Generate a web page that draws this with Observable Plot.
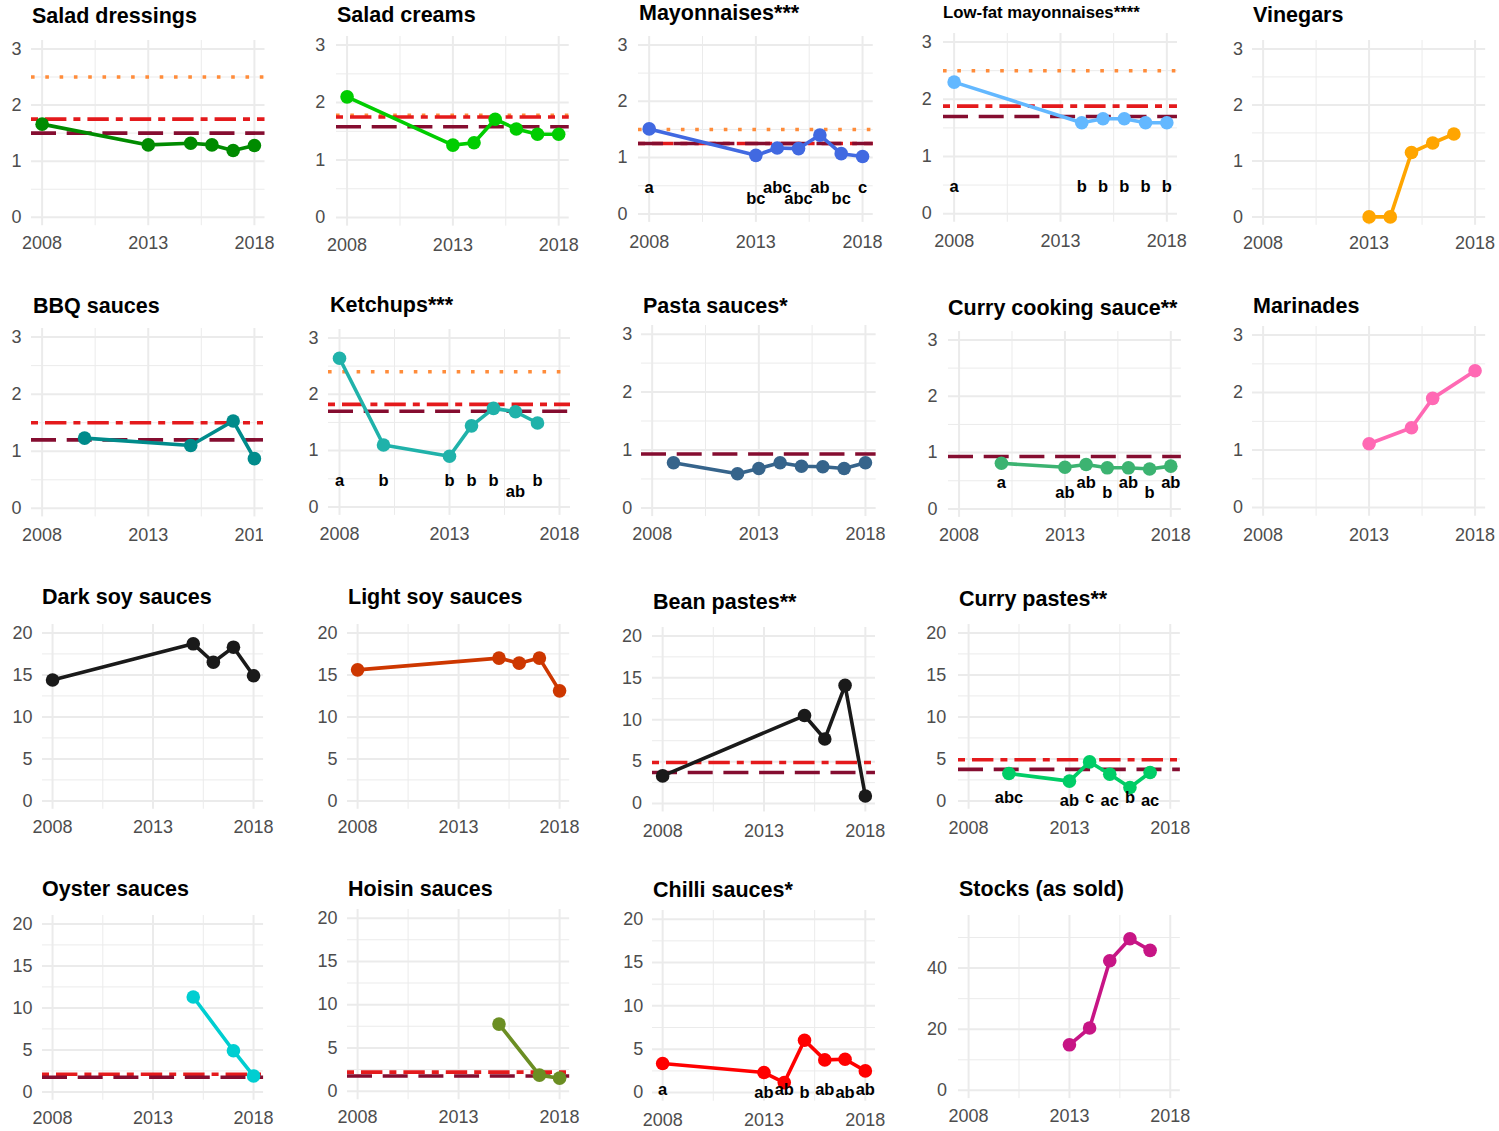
<!DOCTYPE html>
<html>
<head>
<meta charset="utf-8">
<script src="https://cdn.jsdelivr.net/npm/d3@7"></script>
<script src="https://cdn.jsdelivr.net/npm/@observablehq/plot@0.6"></script>
<style>
  html, body { margin: 0; padding: 0; background: #fff; }
  #root { position: relative; width: 1499px; height: 1131px; overflow: hidden; background: #fff;
          font-family: "Liberation Sans", Arial, Helvetica, sans-serif; }
  .pnl { position: absolute; }
  #titles { position: absolute; left: 0; top: 0; pointer-events: none; }
</style>
</head>
<body>
<div id="root"></div>
<script>
// ---------------- DATA ----------------
// refs arrays: [dotted target, dash-dot line, long-dashed line]
const sdYears = [2008, 2013, 2015, 2016, 2017, 2018];
const sdValues = [1.66, 1.29, 1.32, 1.29, 1.19, 1.28];
const sdRefs = [2.5, 1.75, 1.5];

const scYears = [2008, 2013, 2014, 2015, 2016, 2017, 2018];
const scValues = [2.10, 1.26, 1.30, 1.71, 1.54, 1.45, 1.45];
const scRefs = [1.78, 1.75, 1.58];

const myYears = [2008, 2013, 2014, 2015, 2016, 2017, 2018];
const myValues = [1.51, 1.04, 1.17, 1.16, 1.40, 1.07, 1.02];
const myRefs = [1.5, 1.25, 1.25];
const myLetters = ["a", "bc", "abc", "abc", "ab", "bc", "c"];
const myTiers = [0, 1, 0, 1, 0, 1, 0];

const lfYears = [2008, 2014, 2015, 2016, 2017, 2018];
const lfValues = [2.30, 1.59, 1.66, 1.66, 1.59, 1.59];
const lfRefs = [2.5, 1.88, 1.7];
const lfLetters = ["a", "b", "b", "b", "b", "b"];
const lfTiers = [0, 0, 0, 0, 0, 0];

const viYears = [2013, 2014, 2015, 2016, 2017];
const viValues = [0, 0, 1.15, 1.32, 1.48];
const viRefs = [null, null, null];

const bbYears = [2010, 2015, 2017, 2018];
const bbValues = [1.23, 1.10, 1.53, 0.87];
const bbRefs = [null, 1.5, 1.2];

const keYears = [2008, 2010, 2013, 2014, 2015, 2016, 2017];
const keValues = [2.64, 1.10, 0.90, 1.44, 1.75, 1.69, 1.49];
const keRefs = [2.4, 1.82, 1.7];
const keLetters = ["a", "b", "b", "b", "b", "ab", "b"];
const keTiers = [0, 0, 0, 0, 0, 1, 0];

const paYears = [2009, 2012, 2013, 2014, 2015, 2016, 2017, 2018];
const paValues = [0.78, 0.59, 0.68, 0.78, 0.72, 0.71, 0.68, 0.78];
const paRefs = [null, null, 0.93];

const ccYears = [2010, 2013, 2014, 2015, 2016, 2017, 2018];
const ccValues = [0.81, 0.74, 0.79, 0.73, 0.73, 0.71, 0.76];
const ccRefs = [null, null, 0.93];
const ccLetters = ["a", "ab", "ab", "b", "ab", "b", "ab"];
const ccTiers = [0, 1, 0, 1, 0, 1, 0];

const maYears = [2013, 2015, 2016, 2018];
const maValues = [1.11, 1.39, 1.90, 2.38];
const maRefs = [null, null, null];

const dsYears = [2008, 2015, 2016, 2017, 2018];
const dsValues = [14.4, 18.7, 16.5, 18.3, 14.9];
const dsRefs = [null, null, null];

const lsYears = [2008, 2015, 2016, 2017, 2018];
const lsValues = [15.6, 17.0, 16.4, 17.0, 13.1];
const lsRefs = [null, null, null];

const bpYears = [2008, 2015, 2016, 2017, 2018];
const bpValues = [3.3, 10.5, 7.7, 14.1, 0.9];
const bpRefs = [null, 4.9, 3.7];

const cpYears = [2010, 2013, 2014, 2015, 2016, 2017];
const cpValues = [3.26, 2.35, 4.64, 3.18, 1.6, 3.38];
const cpRefs = [null, 4.9, 3.75];
const cpLetters = ["abc", "ab", "c", "ac", "b", "ac"];
const cpTiers = [0, 1, 0, 1, 0, 1];

const oyYears = [2015, 2017, 2018];
const oyValues = [11.3, 4.9, 1.9];
const oyRefs = [null, 2.1, 1.75];

const hoYears = [2015, 2017, 2018];
const hoValues = [7.75, 1.85, 1.5];
const hoRefs = [null, 2.2, 1.75];

const chYears = [2008, 2013, 2014, 2015, 2016, 2017, 2018];
const chValues = [3.35, 2.31, 1.15, 6.04, 3.77, 3.85, 2.5];
const chRefs = [null, null, null];
const chLetters = ["a", "ab", "ab", "b", "ab", "ab", "ab"];
const chTiers = [0, 1, 0, 1, 0, 1, 0];

const stYears = [2013, 2014, 2015, 2016, 2017];
const stValues = [14.9, 20.4, 42.4, 49.6, 45.8];
const stRefs = [null, null, null];

const xMajor = [2008, 2013, 2018];
const xMinor = [2010.5, 2015.5];
const yScales = {
  three:  { domain: [-0.15, 3.15], major: [0, 1, 2, 3], minor: [0.5, 1.5, 2.5] },
  twenty: { domain: [-1, 21], major: [0, 5, 10, 15, 20], minor: [2.5, 7.5, 12.5, 17.5] },
  stocks: { domain: [-2.7, 57.2], major: [0, 20, 40], minor: [10, 30, 50] }
};

// ---------------- PANELS (data + layout) ----------------
const panels = [
  { title: "Salad dressings", years: sdYears, values: sdValues, refs: sdRefs, color: "#008B00", scale: "three",
    L: { x08: 41.7, x18: 254, y0: 216.7, yT: 48.3, tx: 32, tb: 22.7, xb: 248, yr: 21 } },
  { title: "Salad creams", years: scYears, values: scValues, refs: scRefs, color: "#00CD00", scale: "three",
    L: { x08: 346.7, x18: 558.3, y0: 216.7, yT: 44.3, tx: 337, tb: 21.7, xb: 250, yr: 325 } },
  { title: "Mayonnaises***", years: myYears, values: myValues, refs: myRefs, letters: myLetters, tiers: myTiers,
    color: "#4169E1", scale: "three",
    L: { x08: 648.3, x18: 861.7, y0: 213.3, yT: 44.3, tx: 639, tb: 20, xb: 247, yr: 626.7, lb: 0.366, drop: 10.6 } },
  { title: "Low-fat mayonnaises****", years: lfYears, values: lfValues, refs: lfRefs, letters: lfLetters, tiers: lfTiers,
    color: "#63B8FF", scale: "three",
    L: { x08: 954, x18: 1166.7, y0: 213.3, yT: 41.7, tx: 943, tb: 18.3, xb: 247, yr: 931.7, tfs: 16.8, lb: 0.38, drop: 10.6 } },
  { title: "Vinegars", years: viYears, values: viValues, refs: viRefs, color: "#FFA500", scale: "three",
    L: { x08: 1263, x18: 1475, y0: 216.5, yT: 48.5, tx: 1253, tb: 22, xb: 249, yr: 1243 } },

  { title: "BBQ sauces", years: bbYears, values: bbValues, refs: bbRefs, color: "#008B8B", scale: "three",
    L: { x08: 41.7, x18: 254, y0: 508, yT: 336.7, tx: 33, tb: 313.3, xb: 540.7, yr: 21, clip: 263 } },
  { title: "Ketchups***", years: keYears, values: keValues, refs: keRefs, letters: keLetters, tiers: keTiers,
    color: "#20B2AA", scale: "three",
    L: { x08: 339.3, x18: 559.3, y0: 506.7, yT: 337.7, tx: 330, tb: 311.7, xb: 540, yr: 318.3, lb: 0.37, drop: 10.7 } },
  { title: "Pasta sauces*", years: paYears, values: paValues, refs: paRefs, color: "#36648B", scale: "three",
    L: { x08: 651.7, x18: 865, y0: 507.7, yT: 334, tx: 643, tb: 313.3, xb: 540, yr: 631.7 } },
  { title: "Curry cooking sauce**", years: ccYears, values: ccValues, refs: ccRefs, letters: ccLetters, tiers: ccTiers,
    color: "#3CB371", scale: "three",
    L: { x08: 958.3, x18: 1170, y0: 508.3, yT: 339.3, tx: 948, tb: 315, xb: 540.7, yr: 936.7, lb: 0.38, drop: 10.7 } },
  { title: "Marinades", years: maYears, values: maValues, refs: maRefs, color: "#FF69B4", scale: "three",
    L: { x08: 1263, x18: 1475, y0: 507, yT: 334.5, tx: 1253, tb: 313, xb: 540, yr: 1243 } },

  { title: "Dark soy sauces", years: dsYears, values: dsValues, refs: dsRefs, color: "#1A1A1A", scale: "twenty",
    L: { x08: 52, x18: 253, y0: 800, yT: 632, tx: 42, tb: 604, xb: 832, yr: 32 } },
  { title: "Light soy sauces", years: lsYears, values: lsValues, refs: lsRefs, color: "#CD3700", scale: "twenty",
    L: { x08: 357, x18: 559, y0: 800, yT: 632, tx: 348, tb: 604, xb: 832, yr: 337 } },
  { title: "Bean pastes**", years: bpYears, values: bpValues, refs: bpRefs, color: "#1A1A1A", scale: "twenty",
    L: { x08: 662.3, x18: 865, y0: 802.7, yT: 635, tx: 653, tb: 609.3, xb: 836, yr: 641.7 } },
  { title: "Curry pastes**", years: cpYears, values: cpValues, refs: cpRefs, letters: cpLetters, tiers: cpTiers,
    color: "#00CD66", scale: "twenty",
    L: { x08: 968.3, x18: 1170, y0: 800.7, yT: 632.7, tx: 959, tb: 606, xb: 834, yr: 946, lb: -0.31, drop: 2.7 } },

  { title: "Oyster sauces", years: oyYears, values: oyValues, refs: oyRefs, color: "#00CED1", scale: "twenty",
    L: { x08: 52, x18: 253, y0: 1091, yT: 923, tx: 42, tb: 896, xb: 1123, yr: 32 } },
  { title: "Hoisin sauces", years: hoYears, values: hoValues, refs: hoRefs, color: "#6B8E23", scale: "twenty",
    L: { x08: 357, x18: 559, y0: 1091, yT: 918, tx: 348, tb: 896, xb: 1123, yr: 337 } },
  { title: "Chilli sauces*", years: chYears, values: chValues, refs: chRefs, letters: chLetters, tiers: chTiers,
    color: "#FF0000", scale: "twenty",
    L: { x08: 662.3, x18: 865, y0: 1091.7, yT: 918.3, tx: 653, tb: 896.7, xb: 1125, yr: 643, lb: -0.3, drop: 3 } },
  { title: "Stocks (as sold)", years: stYears, values: stValues, refs: stRefs, color: "#C71585", scale: "stocks",
    L: { x08: 968.3, x18: 1170, y0: 1090, yT: 967.7, tx: 959, tb: 896, xb: 1122, yr: 946.7 } }
];

// ---------------- STYLES ----------------
const FONT = '"Liberation Sans", Arial, Helvetica, sans-serif';
const GRID = "#EBEBEB";
const REF_W = 3.6;
const refStyles = [
  { stroke: "#FF8C3A", strokeDasharray: "3.6,10.7" },
  { stroke: "#E41A1C", strokeDasharray: "7,7,21.4,7" },
  { stroke: "#850D30", strokeDasharray: "25,10.7" }
];

// ---------------- RENDER ----------------
const root = document.getElementById("root");
const NS = "http://www.w3.org/2000/svg";
const titles = document.createElementNS(NS, "svg");
titles.setAttribute("id", "titles");
titles.setAttribute("width", 1499);
titles.setAttribute("height", 1131);

function makePanel(p) {
  const S = yScales[p.scale], L = p.L;
  const ppy = (L.x18 - L.x08) / 10;
  const fl = L.x08 - 0.5 * ppy, fr = L.x18 + 0.5 * ppy;
  const ppu = (L.y0 - L.yT) / S.major[S.major.length - 1];
  const ft = L.y0 - S.domain[1] * ppu, fb = L.y0 - S.domain[0] * ppu;
  const mL = 50, mR = 20, mT = 10, mB = 40;
  const width = fr - fl + mL + mR, height = fb - ft + mT + mB;
  const data = p.years.map((year, i) => ({
    year, value: p.values[i],
    letter: p.letters ? p.letters[i] : null,
    tier: p.tiers ? p.tiers[i] : 0
  }));
  const marks = [
    Plot.ruleX(xMinor, { stroke: GRID, strokeWidth: 1 }),
    Plot.ruleY(S.minor, { stroke: GRID, strokeWidth: 1 }),
    Plot.ruleX(xMajor, { stroke: GRID, strokeWidth: 2 }),
    Plot.ruleY(S.major, { stroke: GRID, strokeWidth: 2 }),
    Plot.axisX({ ticks: xMajor, tickSize: 0, tickPadding: L.xb - fb - 0.71 * 18,
                 tickFormat: d => String(d), label: null, fill: "#4D4D4D" }),
    Plot.axisY({ ticks: S.major, tickSize: 0, tickPadding: fl - L.yr,
                 tickFormat: d => String(d), label: null, fill: "#4D4D4D" })
  ];
  p.refs.forEach((v, i) => {
    if (v != null) marks.push(Plot.ruleY([v], { ...refStyles[i], strokeWidth: REF_W }));
  });
  marks.push(Plot.line(data, { x: "year", y: "value", stroke: p.color, strokeWidth: 3.6 }));
  marks.push(Plot.dot(data, { x: "year", y: "value", r: 6.8, fill: p.color, stroke: "none" }));
  if (p.letters) {
    marks.push(Plot.text(data, {
      x: "year", y: d => L.lb - d.tier * L.drop / ppu, text: "letter",
      fill: "#000", fontWeight: "bold", fontSize: 16.5, lineAnchor: "bottom", textAnchor: "middle"
    }));
  }
  const svg = Plot.plot({
    width, height, marginLeft: mL, marginRight: mR, marginTop: mT, marginBottom: mB,
    x: { domain: [2007.5, 2018.5], label: null },
    y: { domain: S.domain, label: null },
    style: { fontFamily: FONT, fontSize: "18px", color: "#4D4D4D", background: "transparent",
             maxWidth: "none", overflow: "visible" },
    marks
  });
  return { svg, left: fl - mL, top: ft - mT, width, height };
}

for (const p of panels) {
  const { svg, left, top, width, height } = makePanel(p);
  const wrap = document.createElement("div");
  wrap.className = "pnl";
  wrap.style.left = left + "px";
  wrap.style.top = top + "px";
  wrap.style.width = width + "px";
  wrap.style.height = height + "px";
  if (p.L.clip) {
    wrap.style.width = (p.L.clip - left) + "px";
    wrap.style.overflow = "hidden";
  }
  wrap.appendChild(svg);
  root.appendChild(wrap);

  const t = document.createElementNS(NS, "text");
  t.setAttribute("x", p.L.tx);
  t.setAttribute("y", p.L.tb);
  t.setAttribute("font-family", FONT);
  t.setAttribute("font-weight", "bold");
  t.setAttribute("font-size", p.L.tfs || 21.5);
  t.setAttribute("fill", "#000");
  t.textContent = p.title;
  titles.appendChild(t);
}
root.appendChild(titles);
</script>
</body>
</html>
